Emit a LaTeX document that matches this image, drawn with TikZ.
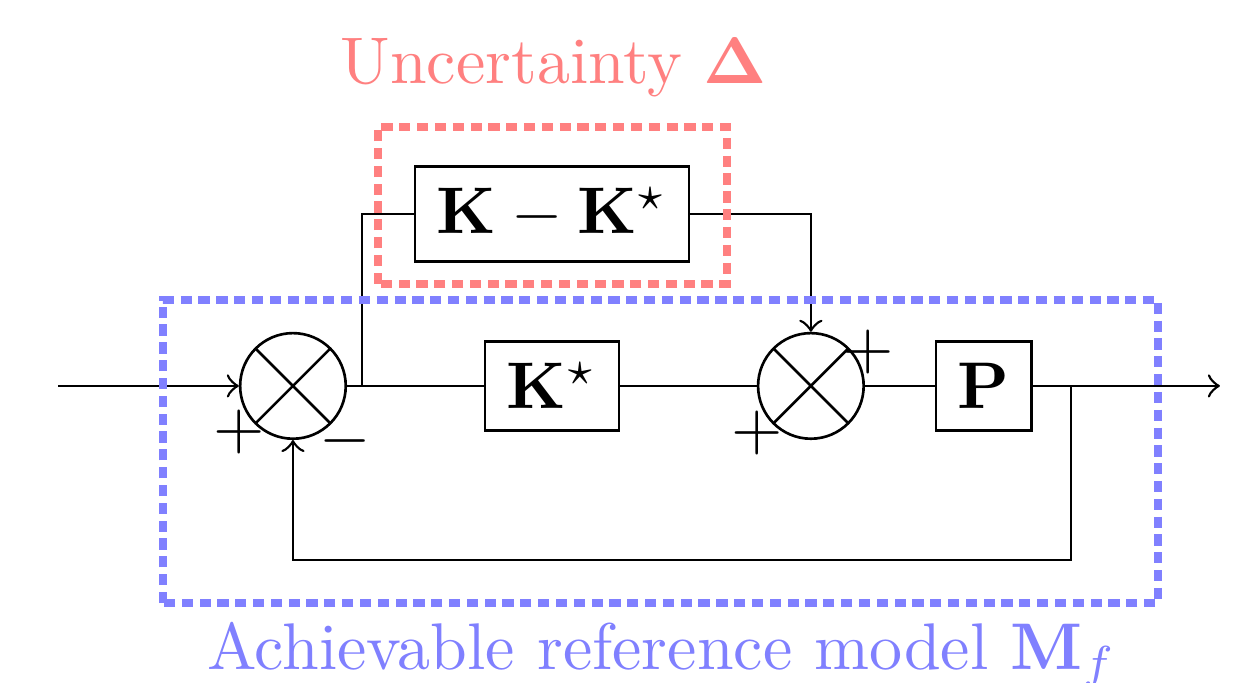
\documentclass[tikz,border=0pt]{standalone}
\usepackage{amsmath}
\usetikzlibrary{positioning}
\begin{document}
\begin{tikzpicture}[
  block/.style={draw},
  sumnode/.style={circle, draw, minimum size=16pt, inner sep=0pt,
    path picture={
      \draw (path picture bounding box.north west) -- (path picture bounding box.south east)
            (path picture bounding box.north east) -- (path picture bounding box.south west);
    }},
  regionbox/.style={line width=1.2pt, dash pattern=on 1.7pt off 1pt}
]
  \useasboundingbox (-1.560,-1.581) rectangle (5.075,2.055);

  % Blocks and summing junctions.
  \node[sumnode] (sa) at (0,0) {};
  \node[block] (kstar) at (1.379,0) {$\mathbf{K}^\star$};
  \node[sumnode] (sb) at (2.758,0) {};
  \node[block] (plant) at (3.679,0) {$\mathbf{P}$};
  \node[block] (kdiff) at (1.379,0.916) {$\mathbf{K}-\mathbf{K}^\star$};

  \coordinate (in) at (-1.251,0);
  \coordinate (out) at (4.936,0);
  \coordinate (split) at (0.367,0);
  \coordinate (tap) at (4.143,0);
  \coordinate (fb) at (4.143,-0.927);

  % Signals.
  \draw[->] (in) -- (sa);
  \draw (sa) -- (kstar) -- (sb) -- (plant);
  \draw[->] (plant) -- (out);
  \draw[->] (tap) -- (fb) -| (sa);
  \draw (split) |- (kdiff);
  \draw[->] (kdiff) -| (sb);

  % Signs.
  \node (pa) at ([shift={(-0.288,-0.245)}]sa.center) {$+$};
  \node (ma) at ([shift={(0.277,-0.293)}]sa.center) {$-$};
  \node (pb) at ([shift={(-0.288,-0.250)}]sb.center) {$+$};
  \node (pc) at ([shift={(0.304,0.181)}]sb.center) {$+$};

  % Regions.
  \draw[regionbox, red!50] (0.453,0.543) rectangle (2.311,1.379);
  \draw[regionbox, blue!50] (-0.692,-1.156) rectangle (4.606,0.458);
  \node[red!50] (unclabel) at (1.390,1.693) {Uncertainty $\mathbf{\Delta}$};
  \node[blue!50] (reflabel) at (1.965,-1.432) {Achievable reference model $\mathbf{M}_f$};
\end{tikzpicture}
\end{document}
